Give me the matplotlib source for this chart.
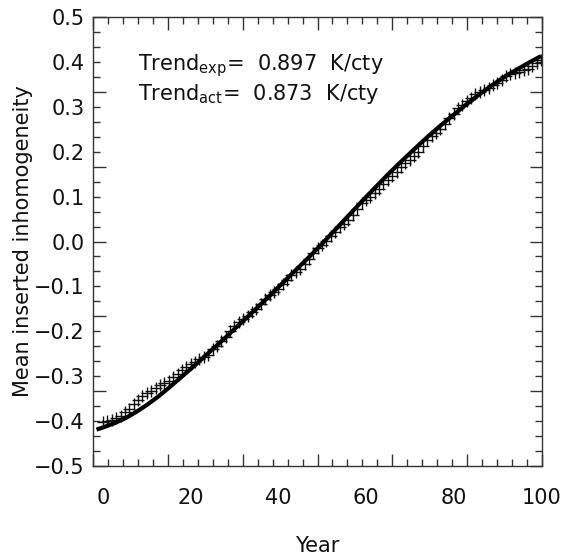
import numpy as np
import matplotlib
matplotlib.use("Agg")
import matplotlib.pyplot as plt

plt.rcParams['font.family'] = ['DejaVu Sans']
plt.rcParams['mathtext.default'] = 'regular'

# Expected (smooth) curve
curve_x = [-1.5, 0, 2.5, 5, 7.5, 10, 12.5, 15, 17.5, 20, 22.5, 25, 27.5, 30, 32.5, 35, 37.5,
           40, 42.5, 45, 47.5, 50, 52.5, 55, 57.5, 60, 62.5, 65, 67.5, 70, 72.5, 75, 77.5,
           80, 82.5, 85, 87.5, 90, 92.5, 95, 97.5, 100]
curve_y = [-0.419, -0.414, -0.405, -0.394, -0.380, -0.364, -0.346, -0.326, -0.305, -0.284,
           -0.262, -0.240, -0.218, -0.195, -0.172, -0.149, -0.126, -0.102, -0.078, -0.054,
           -0.030, -0.005, 0.021, 0.047, 0.073, 0.099, 0.124, 0.149, 0.173, 0.196, 0.219,
           0.241, 0.262, 0.282, 0.302, 0.321, 0.339, 0.356, 0.372, 0.386, 0.400, 0.413]

# Actual yearly mean inserted inhomogeneity (plus markers)
years = list(range(0, 101))
actual = [-0.402, -0.400, -0.398, -0.393, -0.388, -0.380, -0.372, -0.362, -0.352, -0.345,
          -0.338, -0.332, -0.326, -0.320, -0.315, -0.310, -0.302, -0.295, -0.287, -0.280,
          -0.273, -0.268, -0.262, -0.258, -0.252, -0.240, -0.232, -0.222, -0.212, -0.200,
          -0.188, -0.180, -0.172, -0.165, -0.158, -0.150, -0.140, -0.128, -0.120, -0.113,
          -0.105, -0.095, -0.085, -0.075, -0.068, -0.062, -0.050, -0.038, -0.025, -0.015,
          -0.008, 0.002, 0.012, 0.022, 0.032, 0.040, 0.048, 0.060, 0.072, 0.085,
          0.092, 0.098, 0.108, 0.118, 0.128, 0.138, 0.146, 0.155, 0.165, 0.175,
          0.182, 0.190, 0.200, 0.212, 0.225, 0.235, 0.242, 0.250, 0.262, 0.275,
          0.285, 0.298, 0.305, 0.312, 0.320, 0.328, 0.334, 0.338, 0.342, 0.348,
          0.352, 0.360, 0.368, 0.372, 0.375, 0.378, 0.382, 0.385, 0.390, 0.398,
          0.405]

xtick_labels = [0, 20, 40, 60, 80, 100]
ytick_labels = [-0.5, -0.4, -0.3, -0.2, -0.1, 0.0, 0.1, 0.2, 0.3, 0.4, 0.5]

trend_lines = [(r'Trend$_{exp}$=  0.897  K/cty', 0.382),
               (r'Trend$_{act}$=  0.873  K/cty', 0.315)]

XMIN, XMAX = -2.3, 100.2
YMIN, YMAX = -0.5, 0.5
FS = 15

fig = plt.figure(figsize=(5.63, 5.56), dpi=100)
ax = fig.add_axes([93/563, 1-466/556, (542-93)/563, (466-17)/556])

ax.plot(curve_x, curve_y, color='black', lw=3.0, solid_capstyle='butt', zorder=3)
ax.plot(years, actual, linestyle='none', marker='+', color='#111111',
        markersize=8, markeredgewidth=1.0, zorder=2)

ax.set_xlim(XMIN, XMAX)
ax.set_ylim(YMIN, YMAX)

# tick marks: axis divided into 6 major x 5 minor intervals
ax.set_xticks(np.linspace(XMIN, XMAX, 7))
ax.set_xticks(np.linspace(XMIN, XMAX, 31), minor=True)
ax.set_yticks(np.linspace(YMIN, YMAX, 7))
ax.set_yticks(np.linspace(YMIN, YMAX, 31), minor=True)
ax.tick_params(which='both', direction='in', top=True, right=True,
               labelbottom=False, labelleft=False, color='#333333', width=1.0)
ax.tick_params(which='major', length=9)
ax.tick_params(which='minor', length=5)
for s in ax.spines.values():
    s.set_linewidth(1.0)
    s.set_color('#333333')

# tick labels
secx = ax.secondary_xaxis('bottom')
secx.set_xticks(xtick_labels)
secx.set_xticklabels([str(v) for v in xtick_labels])
secx.tick_params(length=0, pad=16, labelsize=FS, labelcolor='#111111')
secx.spines['bottom'].set_visible(False)

secy = ax.secondary_yaxis('left')
secy.set_yticks(ytick_labels)
secy.set_yticklabels([('\u2212' if v < 0 else '') + f'{abs(v):.1f}' for v in ytick_labels])
secy.tick_params(length=0, pad=6, labelsize=FS, labelcolor='#111111')
secy.spines['left'].set_visible(False)

# axis titles on the main axes, placed in axes coordinates
ax.set_xlabel('Year', fontsize=FS, color='#111111')
ax.xaxis.set_label_coords(0.5, -0.157)
ax.set_ylabel('Mean inserted inhomogeneity', fontsize=FS, color='#111111')
ax.yaxis.set_label_coords(-0.134, 0.5)

for txt, yv in trend_lines:
    ax.text(8.0, yv, txt, fontsize=FS, va='baseline', ha='left', color='#111111')

fig.savefig('out.png', dpi=100)
